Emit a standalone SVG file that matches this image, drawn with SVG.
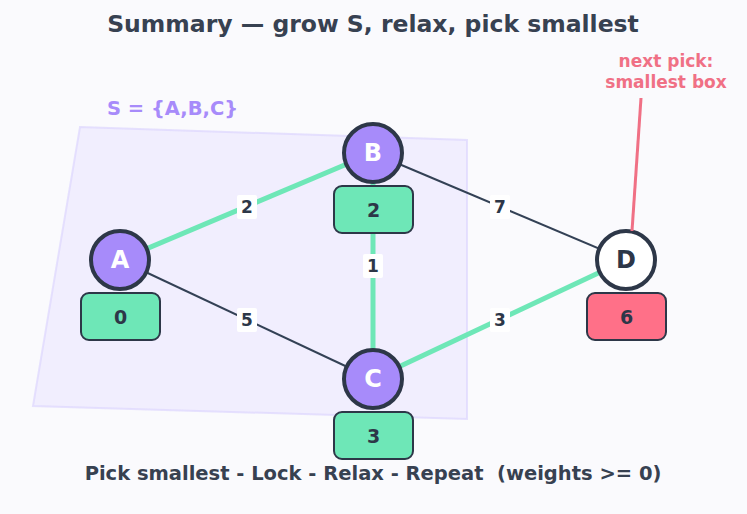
<svg xmlns="http://www.w3.org/2000/svg" width="747" height="514" viewBox="0 0 747 514">
<style>
text{font-family:"DejaVu Sans",sans-serif;font-weight:bold}
.node{fill:#a78bfa;stroke:#2d3748;stroke-width:4}
.nl{fill:#fff;font-size:24px;text-anchor:middle;dominant-baseline:central}
.box{fill:#6ee7b7;stroke:#2d3748;stroke-width:2}
.bl{fill:#2d3748;font-size:19px;text-anchor:middle;dominant-baseline:central}
.hot{stroke:#6ee7b7;stroke-width:5}
.cold{stroke:#334155;stroke-width:2}
.wbg{fill:#fff}
.wl{fill:#2d3748;font-size:17px;text-anchor:middle;dominant-baseline:central}
</style>
<rect width="747" height="514" fill="#fafafd"/>
<text x="373" y="24" font-size="23.5" fill="#374151" text-anchor="middle" dominant-baseline="central">Summary — grow S, relax, pick smallest</text>
<g id="setS">
<polygon points="80,127 467,140 467,419 33,406" fill="#ede9fe" fill-opacity="0.75" stroke="#ddd6fe" stroke-opacity="0.7" stroke-width="2"/>
<text x="107" y="108" font-size="19.5" fill="#a78bfa" dominant-baseline="central">S = {A,B,C}</text>
</g>
<g id="connectors">
<line class="hot" x1="120" y1="260" x2="373" y2="153"/>
<line class="cold" x1="120" y1="260" x2="373" y2="379"/>
<line class="hot" x1="373" y1="153" x2="373" y2="379"/>
<line class="cold" x1="373" y1="153" x2="626" y2="260"/>
<line class="hot" x1="373" y1="379" x2="626" y2="260"/>
<rect class="wbg" x="237" y="195" width="20" height="24" rx="2"/>
<text class="wl" x="247" y="207">2</text>
<rect class="wbg" x="237" y="308" width="20" height="24" rx="2"/>
<text class="wl" x="247" y="320">5</text>
<rect class="wbg" x="363" y="254" width="20" height="24" rx="2"/>
<text class="wl" x="373" y="266">1</text>
<rect class="wbg" x="490" y="195" width="20" height="24" rx="2"/>
<text class="wl" x="500" y="207">7</text>
<rect class="wbg" x="490" y="308" width="20" height="24" rx="2"/>
<text class="wl" x="500" y="320">3</text>
</g>
<g id="A">
<circle class="node" cx="120" cy="260" r="29"/>
<text class="nl" x="120" y="260">A</text>
<rect class="box" x="81" y="293" width="79" height="47" rx="8"/>
<text class="bl" x="120.5" y="316.5">0</text>
</g>
<g id="B">
<circle class="node" cx="373" cy="153" r="29"/>
<text class="nl" x="373" y="153">B</text>
<rect class="box" x="334" y="186" width="79" height="47" rx="8"/>
<text class="bl" x="373.5" y="209.5">2</text>
</g>
<g id="C">
<circle class="node" cx="373" cy="379" r="29"/>
<text class="nl" x="373" y="379">C</text>
<rect class="box" x="334" y="412" width="79" height="47" rx="8"/>
<text class="bl" x="373.5" y="435.5">3</text>
</g>
<g id="D">
<circle class="node" cx="626" cy="260" r="29" style="fill:#fff"/>
<text class="nl" x="626" y="260" style="fill:#2d3748">D</text>
<rect class="box" x="587" y="293" width="79" height="47" rx="8" style="fill:#ff7088"/>
<text class="bl" x="626.5" y="316.5">6</text>
</g>
<g id="note">
<line x1="641" y1="98" x2="632" y2="231" stroke="#f07085" stroke-width="3"/>
<text x="666" y="61" font-size="17" fill="#f07085" text-anchor="middle" dominant-baseline="central">next pick:</text>
<text x="666" y="82" font-size="17" fill="#f07085" text-anchor="middle" dominant-baseline="central">smallest box</text>
</g>
<text x="373" y="473" font-size="19.5" fill="#374151" text-anchor="middle" dominant-baseline="central" xml:space="preserve" style="white-space:pre">Pick smallest - Lock - Relax - Repeat  (weights &gt;= 0)</text>
</svg>
